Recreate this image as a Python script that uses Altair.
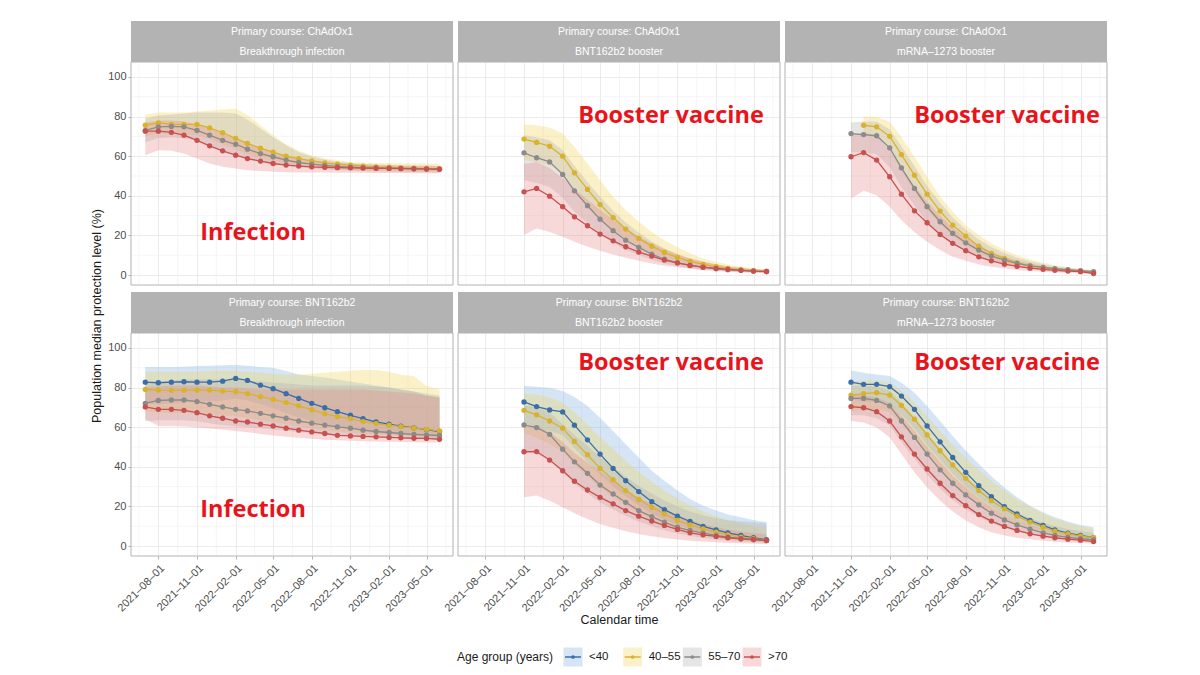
import altair as alt
import pandas as pd

# age groups and colours
ages = ["<40", "40–55", "55–70", ">70"]
line_colors = ["#3b6ea8", "#d9b22b", "#8b8b8b", "#c8504e"]
band_colors = ["#74a8e2", "#f2d24c", "#a8a8a8", "#e88080"]

inf_dates = pd.date_range("2021-07-01", "2023-06-01", freq="MS")
boost_dates = pd.date_range("2021-11-01", "2023-06-01", freq="MS")

major_months = [(2021, 8), (2021, 11), (2022, 2), (2022, 5), (2022, 8), (2022, 11), (2023, 2), (2023, 5)]
minor_x = ["2021-06-16", "2021-09-16", "2021-12-17", "2022-03-18", "2022-06-16",
           "2022-09-16", "2022-12-17", "2023-03-18", "2023-06-16"]
y_ticks = [0, 20, 40, 60, 80, 100]
minor_y = [10, 30, 50, 70, 90]

# --- ChAdOx1 / breakthrough infection
a_yel_med = [75.6, 76.8, 76.0, 76.0, 76.0, 74.3, 71.8, 69.0, 66.4, 64.0, 62.0, 60.0, 58.8, 57.6, 56.6, 56.0, 55.5, 55.0, 54.6, 54.4, 54.1, 53.9, 53.8, 53.6]
a_yel_lo = [70.0, 71.5, 71.5, 71.0, 70.5, 68.5, 66.0, 63.5, 61.0, 59.0, 57.5, 56.0, 55.0, 54.3, 53.8, 53.3, 53.0, 52.7, 52.5, 52.3, 52.2, 52.1, 52.0, 51.9]
a_yel_hi = [81.0, 82.0, 82.0, 82.0, 82.5, 83.0, 83.5, 84.0, 80.7, 75.6, 70.6, 66.0, 62.7, 60.5, 58.8, 58.0, 57.1, 56.8, 56.6, 56.5, 56.4, 56.4, 56.3, 56.3]
a_gry_med = [73.0, 74.8, 75.0, 74.8, 73.0, 70.6, 68.0, 66.0, 63.5, 61.3, 59.7, 58.0, 56.8, 56.0, 55.3, 54.8, 54.5, 54.2, 54.0, 53.9, 53.8, 53.7, 53.6, 53.5]
a_gry_lo = [67.0, 69.0, 69.5, 69.0, 68.0, 65.5, 63.0, 61.0, 59.0, 57.5, 56.3, 55.3, 54.5, 53.9, 53.4, 53.0, 52.7, 52.5, 52.3, 52.2, 52.1, 52.0, 51.9, 51.8]
a_gry_hi = [79.0, 80.5, 81.0, 81.5, 82.0, 82.0, 82.0, 81.5, 78.5, 74.0, 69.5, 65.5, 62.0, 59.8, 58.3, 57.3, 56.6, 56.1, 55.8, 55.5, 55.3, 55.2, 55.1, 55.0]
a_red_med = [72.6, 72.6, 72.0, 70.6, 68.0, 65.2, 62.7, 60.5, 58.8, 57.5, 56.3, 55.5, 55.0, 54.6, 54.4, 54.2, 54.1, 54.0, 53.9, 53.8, 53.7, 53.6, 53.5, 53.4]
a_red_lo = [60.5, 63.0, 62.7, 61.3, 58.8, 56.3, 54.6, 53.8, 52.9, 52.5, 52.1, 51.9, 51.8, 51.7, 51.7, 51.6, 51.6, 51.6, 51.5, 51.5, 51.5, 51.4, 51.4, 51.4]
a_red_hi = [77.0, 78.0, 78.0, 77.5, 76.0, 74.0, 71.5, 69.0, 66.5, 64.0, 62.0, 60.3, 59.0, 58.0, 57.2, 56.6, 56.2, 55.9, 55.6, 55.4, 55.3, 55.2, 55.1, 55.0]

# --- ChAdOx1 / BNT162b2 booster
b_yel_med = [68.6, 66.9, 65.0, 60.0, 51.6, 43.2, 35.6, 29.0, 23.2, 18.5, 14.6, 11.4, 8.9, 6.9, 5.4, 4.2, 3.4, 2.7, 2.2, 1.8]
b_yel_lo = [58.0, 57.0, 55.5, 50.5, 42.5, 35.0, 28.5, 23.0, 18.3, 14.4, 11.2, 8.7, 6.7, 5.2, 4.0, 3.1, 2.5, 2.0, 1.6, 1.3]
b_yel_hi = [76.0, 75.6, 74.5, 71.4, 64.7, 56.3, 47.9, 39.5, 32.8, 26.9, 21.8, 17.6, 14.0, 11.0, 8.4, 6.7, 5.4, 4.2, 3.4, 2.9]
b_gry_med = [61.7, 59.2, 57.1, 50.8, 42.5, 35.0, 28.2, 22.4, 17.6, 14.0, 10.6, 8.0, 6.2, 4.9, 3.9, 3.2, 2.7, 2.4, 2.0, 1.8]
b_gry_lo = [48.0, 46.5, 44.5, 39.0, 32.0, 26.0, 20.8, 16.4, 12.8, 10.0, 7.7, 5.9, 4.5, 3.5, 2.8, 2.2, 1.8, 1.5, 1.3, 1.1]
b_gry_hi = [70.5, 69.5, 68.0, 63.0, 55.0, 47.0, 39.5, 32.5, 26.5, 21.5, 17.0, 13.5, 10.5, 8.3, 6.6, 5.3, 4.3, 3.6, 3.0, 2.6]
b_red_med = [42.0, 43.7, 39.8, 34.5, 29.4, 24.9, 20.7, 17.3, 14.3, 11.6, 9.6, 7.6, 6.2, 4.9, 4.0, 3.4, 2.9, 2.4, 2.0, 1.8]
b_red_lo = [20.2, 23.5, 21.8, 19.3, 16.8, 14.3, 12.3, 10.4, 8.7, 7.2, 5.9, 4.7, 3.9, 3.2, 2.5, 2.1, 1.7, 1.4, 1.2, 1.0]
b_red_hi = [56.0, 57.0, 54.0, 49.0, 43.5, 38.0, 33.0, 28.0, 23.5, 19.5, 16.0, 13.0, 10.5, 8.5, 6.8, 5.5, 4.5, 3.7, 3.1, 2.6]

# --- ChAdOx1 / mRNA-1273 booster
c_yel_med = [None, 75.6, 74.8, 70.0, 60.8, 50.4, 40.8, 32.3, 25.2, 19.7, 14.6, 10.9, 8.4, 6.2, 4.7, 3.7, 3.0, 2.5, 2.0, 1.5]
c_yel_lo = [None, 70.5, 69.5, 63.5, 52.5, 42.0, 33.0, 25.8, 19.6, 15.0, 11.0, 8.1, 6.1, 4.5, 3.4, 2.6, 2.1, 1.7, 1.4, 1.1]
c_yel_hi = [None, 80.0, 79.8, 77.3, 69.7, 59.7, 49.6, 39.5, 32.0, 25.2, 20.2, 16.0, 12.6, 10.0, 7.9, 6.2, 5.0, 4.0, 3.2, 2.5]
c_gry_med = [71.4, 70.9, 70.3, 64.2, 54.1, 43.7, 34.5, 26.9, 21.0, 16.3, 12.6, 9.7, 7.6, 5.9, 4.7, 3.9, 3.2, 2.7, 2.2, 1.7]
c_gry_lo = [62.0, 62.0, 61.0, 54.5, 44.5, 35.0, 27.0, 20.5, 15.7, 12.0, 9.2, 7.0, 5.4, 4.2, 3.3, 2.7, 2.2, 1.8, 1.5, 1.2]
c_gry_hi = [77.0, 77.5, 77.5, 73.5, 65.0, 55.0, 45.0, 36.5, 29.0, 23.0, 18.0, 14.2, 11.2, 8.8, 7.0, 5.6, 4.5, 3.7, 3.0, 2.4]
c_red_med = [59.7, 61.8, 58.0, 49.6, 40.8, 32.4, 26.4, 20.5, 16.0, 12.3, 9.2, 7.2, 5.5, 4.4, 3.5, 2.9, 2.4, 2.0, 1.7, 0.8]
c_red_lo = [38.7, 42.5, 40.3, 34.5, 27.7, 21.8, 16.8, 12.6, 9.2, 7.2, 5.4, 4.2, 3.3, 2.6, 2.1, 1.7, 1.4, 1.1, 0.9, 0.6]
c_red_hi = [70.6, 72.0, 70.0, 63.0, 54.0, 45.0, 37.0, 30.0, 24.0, 19.0, 15.0, 11.8, 9.2, 7.3, 5.8, 4.7, 3.8, 3.1, 2.6, 2.0]

# --- BNT162b2 / breakthrough infection
d_blu_med = [82.7, 82.4, 82.7, 82.9, 82.7, 82.7, 83.2, 84.6, 83.6, 81.2, 79.4, 76.9, 74.5, 72.0, 69.8, 67.8, 66.0, 64.3, 62.6, 61.5, 60.5, 59.6, 58.8, 57.8]
d_blu_lo = [72.0, 71.5, 72.0, 72.5, 73.0, 73.0, 73.5, 74.5, 73.5, 71.5, 69.5, 67.0, 65.0, 63.0, 61.5, 60.0, 59.0, 58.0, 57.0, 56.5, 56.0, 55.5, 55.0, 54.5]
d_blu_hi = [90.3, 90.3, 90.3, 90.5, 90.8, 91.0, 91.2, 91.5, 91.0, 90.3, 90.0, 88.3, 86.6, 85.8, 85.0, 84.0, 83.0, 82.0, 81.0, 80.0, 79.0, 78.0, 77.0, 76.0]
d_yel_med = [79.0, 78.7, 78.6, 78.6, 78.7, 78.7, 78.2, 77.9, 76.9, 75.4, 74.0, 72.4, 70.7, 68.7, 66.8, 65.3, 64.3, 62.8, 61.8, 61.0, 60.3, 59.5, 58.9, 58.1]
d_yel_lo = [68.0, 67.5, 67.0, 67.0, 67.0, 66.5, 66.0, 65.5, 64.5, 63.5, 62.5, 61.5, 60.5, 59.5, 58.5, 57.8, 57.2, 56.7, 56.3, 56.0, 55.7, 55.5, 55.3, 55.0]
d_yel_hi = [88.0, 88.0, 88.0, 88.0, 88.0, 88.5, 88.5, 88.5, 88.0, 87.5, 87.0, 86.5, 86.5, 87.0, 87.5, 88.0, 88.5, 88.8, 88.8, 88.0, 86.5, 85.8, 80.7, 79.0]
d_gry_med = [72.0, 73.5, 73.7, 73.7, 72.9, 71.5, 70.2, 69.0, 68.2, 67.0, 65.7, 64.5, 63.1, 62.0, 61.0, 60.1, 59.5, 58.5, 57.8, 57.3, 56.8, 56.4, 56.1, 55.8]
d_gry_lo = [63.0, 63.5, 63.5, 63.5, 63.0, 62.0, 61.0, 60.5, 60.0, 59.5, 58.8, 58.2, 57.6, 57.0, 56.5, 56.0, 55.6, 55.2, 54.9, 54.6, 54.4, 54.2, 54.0, 53.8]
d_gry_hi = [82.0, 83.0, 83.5, 84.0, 84.0, 84.0, 84.0, 84.0, 83.5, 83.0, 82.5, 82.0, 81.5, 81.0, 81.0, 81.0, 81.0, 81.0, 80.5, 80.0, 79.0, 78.0, 76.0, 75.0]
d_red_med = [70.2, 69.0, 69.0, 68.5, 67.3, 65.7, 64.5, 63.1, 62.6, 61.5, 60.6, 59.5, 58.5, 57.6, 56.8, 55.9, 55.6, 55.3, 55.1, 54.8, 54.6, 54.4, 54.3, 53.9]
d_red_lo = [64.0, 60.6, 60.5, 60.3, 59.8, 59.3, 58.7, 58.1, 57.4, 56.6, 55.8, 55.2, 54.6, 54.1, 53.7, 53.4, 53.1, 52.9, 52.8, 52.6, 52.5, 52.4, 52.3, 52.2]
d_red_hi = [80.0, 80.5, 81.0, 81.0, 81.0, 80.5, 80.0, 80.0, 79.5, 79.0, 79.0, 79.0, 79.0, 79.0, 79.0, 79.0, 79.0, 79.0, 78.5, 78.0, 77.5, 77.0, 76.0, 75.0]

# --- BNT162b2 / BNT162b2 booster
e_blu_med = [72.7, 70.4, 68.7, 67.7, 61.0, 53.6, 46.4, 39.2, 33.0, 27.5, 22.4, 18.4, 15.1, 12.4, 9.9, 8.2, 6.7, 5.4, 4.2, 3.2]
e_blu_lo = [62.0, 60.0, 58.0, 56.0, 49.5, 42.5, 36.0, 30.0, 25.0, 20.5, 16.5, 13.3, 10.7, 8.6, 6.9, 5.6, 4.5, 3.6, 2.9, 2.3]
e_blu_hi = [80.7, 80.4, 79.9, 78.2, 75.2, 70.7, 64.8, 58.1, 51.4, 44.7, 38.0, 33.0, 28.0, 23.8, 20.4, 17.9, 15.9, 14.6, 13.2, 12.1]
e_yel_med = [68.5, 66.2, 63.1, 59.5, 52.8, 46.1, 39.2, 33.5, 28.0, 23.5, 19.6, 16.2, 12.9, 10.7, 8.7, 7.0, 5.7, 4.5, 3.7, 2.8]
e_yel_lo = [57.0, 54.5, 51.5, 47.5, 41.0, 35.0, 29.2, 24.5, 20.0, 16.5, 13.5, 11.0, 8.7, 7.0, 5.6, 4.5, 3.6, 2.9, 2.3, 1.8]
e_yel_hi = [77.0, 76.5, 75.0, 72.5, 67.5, 61.5, 55.0, 49.0, 43.0, 37.5, 32.5, 28.0, 24.0, 20.5, 17.5, 15.0, 13.0, 11.5, 10.3, 9.3]
e_gry_med = [61.1, 59.8, 56.4, 48.9, 42.5, 36.7, 30.8, 26.3, 22.1, 17.9, 14.9, 12.1, 9.5, 7.9, 6.5, 5.4, 4.5, 3.7, 3.2, 2.8]
e_gry_lo = [48.0, 46.5, 43.5, 37.0, 31.5, 26.5, 22.0, 18.4, 15.2, 12.3, 10.0, 8.0, 6.3, 5.1, 4.1, 3.3, 2.7, 2.2, 1.9, 1.6]
e_gry_hi = [71.0, 70.0, 67.5, 61.5, 56.0, 50.5, 45.0, 40.0, 35.0, 30.5, 26.5, 23.0, 20.0, 17.5, 15.5, 14.0, 13.0, 12.5, 12.0, 11.5]
e_red_med = [47.6, 47.7, 43.4, 38.0, 32.7, 28.3, 24.6, 21.3, 17.9, 15.1, 12.6, 10.4, 8.4, 6.7, 5.7, 4.9, 4.2, 3.7, 3.4, 2.8]
e_red_lo = [24.6, 25.5, 22.9, 19.6, 16.6, 13.7, 11.2, 9.2, 7.5, 6.1, 5.0, 4.1, 3.3, 2.7, 2.3, 1.9, 1.6, 1.4, 1.2, 1.0]
e_red_hi = [60.0, 61.0, 57.5, 52.5, 47.0, 42.0, 37.5, 33.0, 28.5, 24.5, 21.0, 18.0, 15.5, 13.0, 11.0, 9.5, 8.3, 7.3, 6.5, 5.8]

# --- BNT162b2 / mRNA-1273 booster
f_blu_med = [82.7, 81.6, 81.6, 80.4, 75.7, 69.0, 60.6, 52.6, 44.7, 37.2, 30.5, 25.0, 19.9, 16.2, 12.9, 10.4, 8.2, 6.5, 5.4, 4.2]
f_blu_lo = [74.0, 73.0, 73.0, 71.5, 66.5, 59.5, 51.0, 43.5, 36.5, 30.0, 24.5, 19.8, 15.8, 12.7, 10.1, 8.0, 6.3, 5.0, 4.1, 3.2]
f_blu_hi = [88.6, 87.4, 86.6, 85.8, 82.4, 77.4, 70.7, 63.1, 55.6, 48.1, 41.4, 35.2, 29.6, 24.6, 20.4, 17.1, 14.6, 12.4, 10.7, 9.5]
f_yel_med = [76.2, 76.9, 77.4, 76.2, 71.0, 64.0, 56.1, 48.1, 40.9, 34.2, 28.0, 22.9, 18.8, 15.1, 12.1, 9.5, 7.5, 6.2, 5.0, 4.2]
f_yel_lo = [68.0, 68.5, 69.0, 67.5, 61.5, 54.0, 46.0, 38.5, 32.0, 26.3, 21.3, 17.2, 13.9, 11.1, 8.8, 6.9, 5.4, 4.4, 3.5, 2.9]
f_yel_hi = [83.0, 83.5, 83.5, 82.5, 78.5, 72.5, 65.5, 58.0, 51.0, 44.5, 38.5, 33.0, 28.0, 23.5, 19.8, 16.5, 13.8, 11.8, 10.0, 8.8]
f_gry_med = [74.5, 74.5, 73.5, 70.7, 63.1, 54.8, 46.4, 38.5, 31.7, 25.8, 20.8, 16.6, 13.2, 10.7, 8.5, 6.7, 5.4, 4.4, 3.7, 3.2]
f_gry_lo = [66.0, 66.0, 64.5, 61.0, 52.5, 44.0, 36.0, 29.0, 23.3, 18.6, 14.7, 11.6, 9.1, 7.3, 5.8, 4.6, 3.7, 3.0, 2.5, 2.1]
f_gry_hi = [81.0, 81.0, 80.5, 78.5, 72.5, 65.0, 57.0, 49.0, 41.5, 35.0, 29.5, 24.5, 20.5, 17.0, 14.0, 11.8, 10.0, 8.6, 7.5, 6.6]
f_red_med = [70.4, 69.8, 67.8, 63.1, 55.1, 46.4, 38.9, 31.7, 25.5, 20.4, 15.9, 12.6, 9.9, 7.9, 6.2, 5.0, 4.2, 3.5, 3.0, 2.3]
f_red_lo = [63.1, 62.3, 59.8, 54.8, 46.4, 37.2, 29.6, 22.9, 17.4, 12.9, 9.5, 7.0, 5.4, 4.2, 3.4, 2.7, 2.2, 1.8, 1.5, 1.2]
f_red_hi = [76.5, 76.0, 75.0, 72.0, 66.0, 58.0, 50.0, 42.5, 35.5, 29.5, 24.0, 19.5, 15.8, 12.8, 10.4, 8.5, 7.0, 5.8, 4.9, 4.1]

series = [
    ("A", ages[1], inf_dates, a_yel_med, a_yel_lo, a_yel_hi),
    ("A", ages[2], inf_dates, a_gry_med, a_gry_lo, a_gry_hi),
    ("A", ages[3], inf_dates, a_red_med, a_red_lo, a_red_hi),
    ("B", ages[1], boost_dates, b_yel_med, b_yel_lo, b_yel_hi),
    ("B", ages[2], boost_dates, b_gry_med, b_gry_lo, b_gry_hi),
    ("B", ages[3], boost_dates, b_red_med, b_red_lo, b_red_hi),
    ("C", ages[1], boost_dates, c_yel_med, c_yel_lo, c_yel_hi),
    ("C", ages[2], boost_dates, c_gry_med, c_gry_lo, c_gry_hi),
    ("C", ages[3], boost_dates, c_red_med, c_red_lo, c_red_hi),
    ("D", ages[0], inf_dates, d_blu_med, d_blu_lo, d_blu_hi),
    ("D", ages[1], inf_dates, d_yel_med, d_yel_lo, d_yel_hi),
    ("D", ages[2], inf_dates, d_gry_med, d_gry_lo, d_gry_hi),
    ("D", ages[3], inf_dates, d_red_med, d_red_lo, d_red_hi),
    ("E", ages[0], boost_dates, e_blu_med, e_blu_lo, e_blu_hi),
    ("E", ages[1], boost_dates, e_yel_med, e_yel_lo, e_yel_hi),
    ("E", ages[2], boost_dates, e_gry_med, e_gry_lo, e_gry_hi),
    ("E", ages[3], boost_dates, e_red_med, e_red_lo, e_red_hi),
    ("F", ages[0], boost_dates, f_blu_med, f_blu_lo, f_blu_hi),
    ("F", ages[1], boost_dates, f_yel_med, f_yel_lo, f_yel_hi),
    ("F", ages[2], boost_dates, f_gry_med, f_gry_lo, f_gry_hi),
    ("F", ages[3], boost_dates, f_red_med, f_red_lo, f_red_hi),
]

rows = []
for panel_key, age, dates, med, lo, hi in series:
    for d, m, l, h in zip(dates, med, lo, hi):
        if m is not None:
            rows.append({"panel": panel_key, "age": age, "date": d, "med": m, "lo": l, "hi": h})
df = pd.DataFrame(rows)

minor_x_df = pd.DataFrame({"date": pd.to_datetime(minor_x)})
minor_y_df = pd.DataFrame({"v": minor_y})

W, H, SH = 322, 223, 41
RED = "#e8141c"

x_scale = alt.Scale(domain=[alt.DateTime(year=2021, month=5, date=28),
                            alt.DateTime(year=2023, month=7, date=3)])
y_scale = alt.Scale(domain=[-5, 107.5], nice=False, zero=False)
color_scale = alt.Scale(domain=ages, range=line_colors)
fill_scale = alt.Scale(domain=ages, range=band_colors)
x_values = [alt.DateTime(year=yy, month=mm, date=1) for yy, mm in major_months]


def panel(key, line1, line2, note, note_x, note_y, left, bottom, xtitle=None):
    d = df[df["panel"] == key]
    x_axis = alt.Axis(
        values=x_values, labels=bottom, ticks=bottom, grid=True, labelOverlap=False,
        labelExpr="timeFormat(datum.value, '%Y–%m–%d')",
        labelAngle=315, labelAlign="right", labelBaseline="top", labelPadding=3, titlePadding=0,
    )
    y_axis = alt.Axis(values=y_ticks, labels=left, ticks=left, grid=True)
    x = alt.X("date:T", scale=x_scale, axis=x_axis, title=xtitle)
    y_med = alt.Y("med:Q", scale=y_scale, axis=y_axis, title=None)

    # light minor grid, drawn with the same axes so the axis merge keeps labels
    minor_v = alt.Chart(minor_x_df).mark_rule(color="#f1f1f1", strokeWidth=0.7).encode(x=x)
    minor_h = alt.Chart(minor_y_df).mark_rule(color="#f1f1f1", strokeWidth=0.7).encode(
        y=alt.Y("v:Q", scale=y_scale, axis=y_axis, title=None))

    band = alt.Chart(d).mark_area(opacity=0.3).encode(
        x=x,
        y=alt.Y("lo:Q", scale=y_scale, axis=y_axis, title=None),
        y2="hi:Q",
        fill=alt.Fill("age:N", scale=fill_scale, legend=None),
    )
    line = alt.Chart(d).mark_line(strokeWidth=1.3).encode(
        x=x, y=y_med, color=alt.Color("age:N", scale=color_scale, legend=None))
    pts = alt.Chart(d).mark_point(filled=True, size=28, opacity=1).encode(
        x=x, y=y_med, color=alt.Color("age:N", scale=color_scale, legend=None))

    lab = pd.DataFrame({"line1": [line1], "line2": [line2], "note": [note]})
    border = alt.Chart(lab).mark_rect(fillOpacity=0, stroke="#b3b3b3", strokeWidth=1).encode(
        x=alt.value(0), x2=alt.value(W), y=alt.value(0), y2=alt.value(H))
    strip = alt.Chart(lab).mark_rect(color="#b3b3b3").encode(
        x=alt.value(0), x2=alt.value(W), y=alt.value(-SH), y2=alt.value(0))
    s1 = alt.Chart(lab).mark_text(color="white", fontSize=10.5, font="Liberation Sans").encode(
        x=alt.value(W / 2), y=alt.value(-30), text="line1:N")
    s2 = alt.Chart(lab).mark_text(color="white", fontSize=10.5, font="Liberation Sans").encode(
        x=alt.value(W / 2), y=alt.value(-10), text="line2:N")
    txt = alt.Chart(lab).mark_text(color=RED, fontSize=23.5, font="Open Sans", fontWeight="bold").encode(
        x=alt.value(note_x), y=alt.value(note_y), text="note:N")

    return alt.layer(minor_v, minor_h, band, line, pts, border, strip, s1, s2, txt).properties(
        width=W, height=H)


row1 = alt.hconcat(
    panel("A", "Primary course: ChAdOx1", "Breakthrough infection", "Infection", 122, 171, True, False),
    panel("B", "Primary course: ChAdOx1", "BNT162b2 booster", "Booster vaccine", 213, 54, False, False),
    panel("C", "Primary course: ChAdOx1", "mRNA–1273 booster", "Booster vaccine", 222, 54, False, False),
    spacing=5, bounds="flush",
)
row2 = alt.hconcat(
    panel("D", "Primary course: BNT162b2", "Breakthrough infection", "Infection", 122, 177, True, True),
    panel("E", "Primary course: BNT162b2", "BNT162b2 booster", "Booster vaccine", 213, 30, False, True,
          "Calendar time"),
    panel("F", "Primary course: BNT162b2", "mRNA–1273 booster", "Booster vaccine", 222, 30, False, True),
    spacing=5, bounds="flush",
)

# hand-made legend
leg_df = pd.DataFrame({"age": ages})
leg_title = pd.DataFrame({"t": ["Age group (years)"]})
leg_x = alt.X("age:N", scale=alt.Scale(type="point", domain=ages, range=[442, 621], padding=0), axis=None)
keys = alt.Chart(leg_df).mark_square(size=361, opacity=0.3).encode(
    x=leg_x, y=alt.value(15), fill=alt.Fill("age:N", scale=fill_scale, legend=None))
key_line = alt.Chart(leg_df).mark_point(shape="stroke", size=256, strokeWidth=1.5, opacity=1).encode(
    x=leg_x, y=alt.value(15), color=alt.Color("age:N", scale=color_scale, legend=None))
key_dot = alt.Chart(leg_df).mark_point(filled=True, size=14, opacity=1).encode(
    x=leg_x, y=alt.value(15), color=alt.Color("age:N", scale=color_scale, legend=None))
key_lab = alt.Chart(leg_df).mark_text(align="left", dx=16, fontSize=11.5, font="Liberation Sans",
                                       color="#1a1a1a").encode(x=leg_x, y=alt.value(15), text="age:N")
key_tit = alt.Chart(leg_title).mark_text(align="right", fontSize=12, font="Liberation Sans",
                                          color="#1a1a1a").encode(x=alt.value(422), y=alt.value(15), text="t:N")
legend = alt.layer(keys, key_line, key_dot, key_lab, key_tit).properties(width=700, height=30)

ytitle_df = pd.DataFrame({"t": ["Population median protection level (%)"]})
ytitle = alt.Chart(ytitle_df).mark_text(angle=270, fontSize=12.5, font="Liberation Sans", color="#1a1a1a").encode(
    x=alt.value(7), y=alt.value(254), text="t:N").properties(width=14, height=560)

grid = alt.vconcat(alt.vconcat(row1, row2, spacing=6), legend, spacing=16)

chart = (
    alt.hconcat(ytitle, grid, spacing=3)
    .properties(padding={"left": 82, "top": 13, "right": 5, "bottom": 5})
    .configure(font="Liberation Sans")
    .configure_view(strokeWidth=0)
    .configure_axis(
        labelFont="Liberation Sans", labelFontSize=11, labelColor="#4d4d4d",
        tickColor="#b3b3b3", tickSize=3, gridColor="#e6e6e6", gridWidth=0.8, domain=False,
        titleFont="Liberation Sans", titleFontSize=12.5, titleFontWeight="normal", titleColor="#1a1a1a",
    )
)

chart.save("out.html", embed_options={"renderer": "svg", "actions": False})
